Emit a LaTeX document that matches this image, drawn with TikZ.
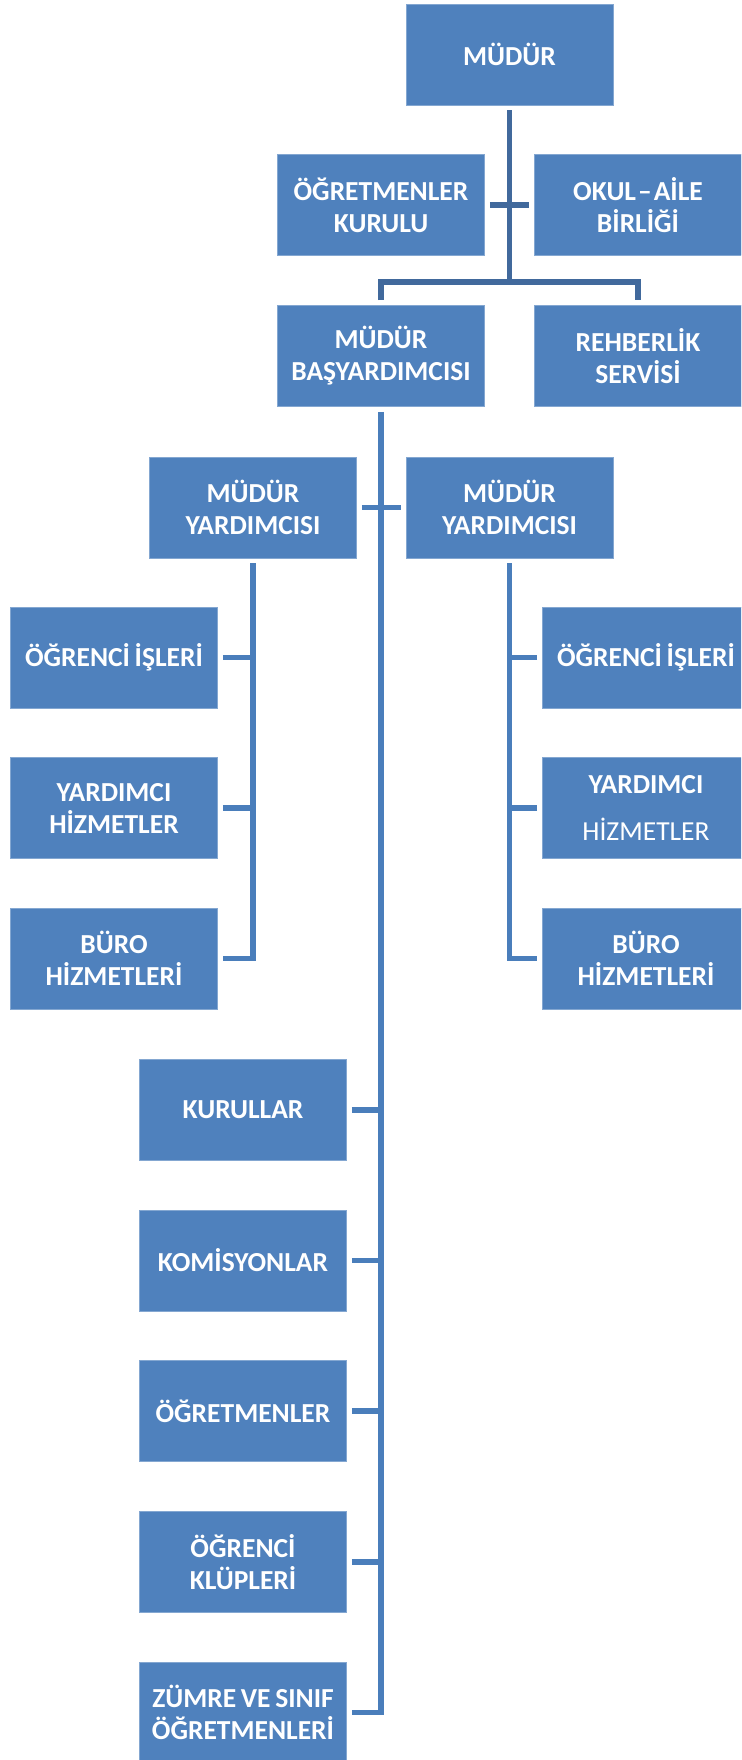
\documentclass[tikz,border=0pt]{standalone}
\usepackage{fontspec}
\setmainfont{Carlito}
\definecolor{boxblue}{HTML}{4F81BD}
\definecolor{topline}{HTML}{41699C}
\definecolor{subline}{HTML}{4A7EBB}
\newcommand\orgfont{\bfseries\fontsize{27.5}{32}\selectfont\spaceskip=0.17em plus 0.05em\relax}
\begin{document}
\begin{tikzpicture}[x=1pt,y=-1pt,
  box/.style={fill=boxblue, draw=boxblue!70!white, line width=0.6pt, minimum width=207pt, minimum height=101pt,
    text=white, font=\orgfont, align=center, inner sep=0pt},
  topconn/.style={draw=topline, line width=5.5pt},
  subconn/.style={draw=subline, line width=5.5pt},
  gapa/.style={shorten <=5pt},
  gapb/.style={shorten >=5pt}]
\useasboundingbox (0,0) rectangle (741,1760);
\clip (0,0) rectangle (741,1760);
% top level
\node[box] (mudur) at (509.5,54.5) {MÜDÜR};
\node[box] (ogrkurulu) at (381,205) {ÖĞRETMENLER\\KURULU};
\node[box] (okulaile) at (638,205) {OKUL\kern2pt–\kern2ptAİLE\\BİRLİĞİ};
\node[box] (basyard) at (381,356) {MÜDÜR\\BAŞYARDIMCISI};
\node[box] (rehber) at (638,356) {REHBERLİK\\SERVİSİ};
% assistants
\node[box] (myL) at (253,507.5) {MÜDÜR\\YARDIMCISI};
\node[box] (myR) at (509.5,507.5) {MÜDÜR\\YARDIMCISI};
% left column
\node[box] (ogrL) at (114,657.5) {ÖĞRENCİ İŞLERİ};
\node[box] (yhL) at (114,808) {YARDIMCI\\HİZMETLER};
\node[box] (buroL) at (114,958.5) {BÜRO\\HİZMETLERİ};
% right column
\node[box] (ogrR) at (646,657.5) {ÖĞRENCİ İŞLERİ};
\node[box] (yhR) at (646,808) {YARDIMCI\\[15pt]{\mdseries HİZMETLER}};
\node[box] (buroR) at (646,958.5) {BÜRO\\HİZMETLERİ};
% bottom column
\node[box] (kurullar) at (243,1110) {KURULLAR};
\node[box] (komisyon) at (243,1260.5) {KOMİSYONLAR};
\node[box] (ogretmen) at (243,1411) {ÖĞRETMENLER};
\node[box] (klup) at (243,1562) {ÖĞRENCİ\\KLÜPLERİ};
\node[box] (zumre) at (243,1712.5) {ZÜMRE VE SINIF\\ÖĞRETMENLERİ};
% top connectors
\draw[topconn, gapa, gapb] (basyard.north) -- ++(0,-23) -| (rehber.north);
\draw[topconn, gapa] (mudur.south) -- ++(0,177);
\draw[topconn, gapa, gapb] (ogrkurulu.east) -- (okulaile.west);
% main spine
\draw[subconn, gapa, gapb] (basyard.south) |- (zumre.east);
\draw[subconn, gapa, gapb] (myL.east) -- (myR.west);
\foreach \n in {kurullar,komisyon,ogretmen,klup}
  \draw[subconn, gapa] (\n.east) -- (\n.east -| basyard.south);
% left branch
\draw[subconn, gapa, gapb] (myL.south) |- (buroL.east);
\foreach \n in {ogrL,yhL}
  \draw[subconn, gapa] (\n.east) -- (\n.east -| myL.south);
% right branch
\draw[subconn, gapa, gapb] (myR.south) |- (buroR.west);
\foreach \n in {ogrR,yhR}
  \draw[subconn, gapa] (\n.west) -- (\n.west -| myR.south);
\end{tikzpicture}
\end{document}
